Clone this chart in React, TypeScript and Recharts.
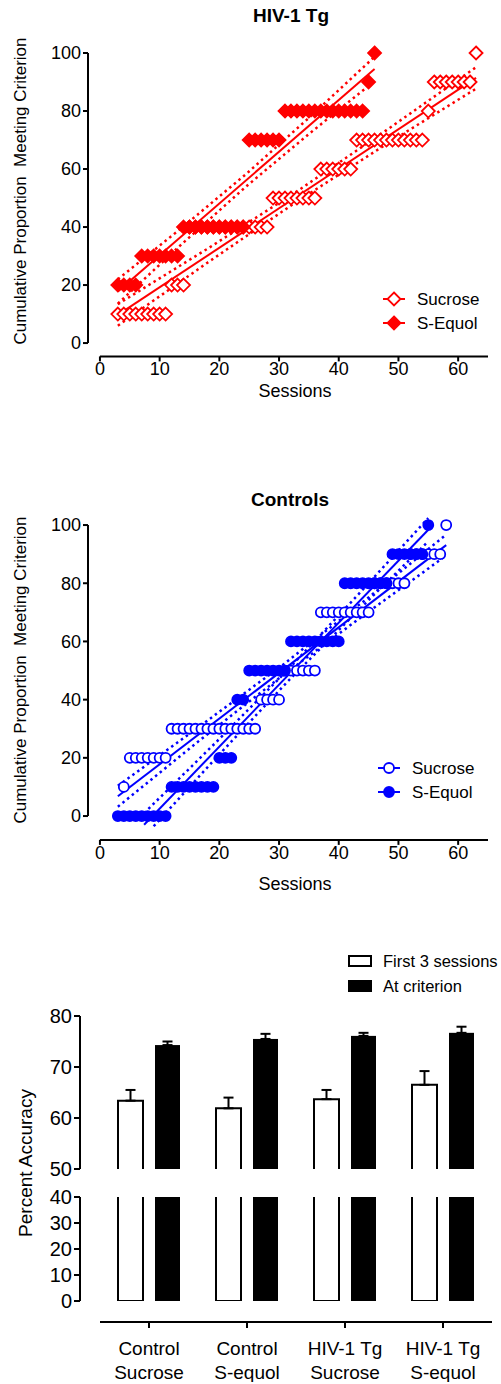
import React from 'react'
import {
  Bar,
  BarChart,
  ComposedChart,
  ErrorBar,
  Line,
  ReferenceLine,
  Scatter,
  XAxis,
  YAxis,
} from 'recharts'

const FONT = '"Liberation Sans", Arial, Helvetica, sans-serif'
const RED = '#ff0000'
const BLUE = '#0000ff'

const sessionTicks = [0, 10, 20, 30, 40, 50, 60]
const proportionTicks = [0, 20, 40, 60, 80, 100]

// HIV-1 Tg panel
const hivSucroseSessions = [
  3, 4, 5, 6, 7, 8, 9, 10, 11, 12, 13, 14, 15, 16, 17, 18, 19, 20, 21, 22, 23, 24, 25, 26, 27, 28, 29, 30, 31, 32, 33,
  34, 35, 36, 37, 38, 39, 40, 41, 42, 43, 44, 45, 46, 47, 48, 49, 50, 51, 52, 53, 54, 55, 56, 57, 58, 59, 60, 61, 62, 63,
]
const hivSucroseValues = [
  10, 10, 10, 10, 10, 10, 10, 10, 10, 20, 20, 20, 40, 40, 40, 40, 40, 40, 40, 40, 40, 40, 40, 40, 40, 40, 50, 50, 50, 50,
  50, 50, 50, 50, 60, 60, 60, 60, 60, 60, 70, 70, 70, 70, 70, 70, 70, 70, 70, 70, 70, 70, 80, 90, 90, 90, 90, 90, 90, 90,
  100,
]
const hivEquolSessions = [
  3, 4, 5, 6, 7, 8, 9, 10, 11, 12, 13, 14, 15, 16, 17, 18, 19, 20, 21, 22, 23, 24, 25, 26, 27, 28, 29, 30, 31, 32, 33,
  34, 35, 36, 37, 38, 39, 40, 41, 42, 43, 44, 45, 46,
]
const hivEquolValues = [
  20, 20, 20, 20, 30, 30, 30, 30, 30, 30, 30, 40, 40, 40, 40, 40, 40, 40, 40, 40, 40, 40, 70, 70, 70, 70, 70, 70, 80, 80,
  80, 80, 80, 80, 80, 80, 80, 80, 80, 80, 80, 80, 90, 100,
]
const hivSucroseFitX = [3, 63]
const hivSucroseFitY = [9.7, 91.4]
const hivSucroseBandX = [3, 18, 33, 48, 63]
const hivSucroseUpper = [13.4, 32.5, 52.3, 73.4, 95.1]
const hivSucroseLower = [6.0, 27.7, 48.8, 68.6, 87.7]
const hivEquolFitX = [3, 46]
const hivEquolFitY = [17.8, 94.5]
const hivEquolBandX = [3, 13.75, 24.5, 35.25, 46]
const hivEquolUpper = [22.0, 39.8, 58.3, 78.1, 98.7]
const hivEquolLower = [13.6, 34.2, 54.0, 72.5, 90.3]

// Controls panel
const ctlSucroseSessions = [
  4, 5, 6, 7, 8, 9, 10, 11, 12, 13, 14, 15, 16, 17, 18, 19, 20, 21, 22, 23, 24, 25, 26, 27, 28, 29, 30, 31, 32, 33, 34,
  35, 36, 37, 38, 39, 40, 41, 42, 43, 44, 45, 46, 47, 48, 49, 50, 51, 52, 53, 54, 55, 56, 57, 58,
]
const ctlSucroseValues = [
  10, 20, 20, 20, 20, 20, 20, 20, 30, 30, 30, 30, 30, 30, 30, 30, 30, 30, 30, 30, 30, 30, 30, 40, 40, 40, 40, 50, 50, 50,
  50, 50, 50, 70, 70, 70, 70, 70, 70, 70, 70, 70, 80, 80, 80, 80, 80, 80, 90, 90, 90, 90, 90, 90, 100,
]
const ctlEquolSessions = [
  3, 4, 5, 6, 7, 8, 9, 10, 11, 12, 13, 14, 15, 16, 17, 18, 19, 20, 21, 22, 23, 24, 25, 26, 27, 28, 29, 30, 31, 32, 33,
  34, 35, 36, 37, 38, 39, 40, 41, 42, 43, 44, 45, 46, 47, 48, 49, 50, 51, 52, 53, 54, 55,
]
const ctlEquolValues = [
  0, 0, 0, 0, 0, 0, 0, 0, 0, 10, 10, 10, 10, 10, 10, 10, 10, 20, 20, 20, 40, 40, 50, 50, 50, 50, 50, 50, 50, 60, 60, 60,
  60, 60, 60, 60, 60, 60, 80, 80, 80, 80, 80, 80, 80, 80, 90, 90, 90, 90, 90, 90, 100,
]
const ctlSucroseFitX = [3, 58]
const ctlSucroseFitY = [6.8, 93.1]
const ctlSucroseBandX = [3, 16.75, 30.5, 44.25, 58]
const ctlSucroseUpper = [10.4, 30.9, 51.75, 73.9, 96.7]
const ctlSucroseLower = [3.2, 26.1, 48.15, 69.1, 89.5]
const ctlEquolFitX = [7.4, 55]
const ctlEquolFitY = [-3, 98.4]
const ctlEquolUpperX = [7.4, 19.3, 31.2, 43.1, 55]
const ctlEquolUpper = [1.0, 25.05, 49.7, 75.75, 102.4]
const ctlEquolLowerX = [9.0, 19.3, 31.2, 43.1, 55]
const ctlEquolLower = [-3.5, 19.65, 45.7, 70.35, 94.4]

// Accuracy bars
const groups = ['Control\nSucrose', 'Control\nS-equol', 'HIV-1 Tg\nSucrose', 'HIV-1 Tg\nS-equol']
const firstSessions = [63.4, 61.9, 63.7, 66.5]
const firstSessionsErr = [2.1, 2.1, 1.8, 2.7]
const atCriterion = [74.3, 75.5, 76.1, 76.7]
const atCriterionErr = [0.7, 1.0, 0.6, 1.2]

type Pt = { x: number; y: number }
const zip = (xs: number[], ys: number[]): Pt[] => xs.map((x, i) => ({ x, y: ys[i] }))

const barRows = groups.map((group, i) => ({
  group,
  first: firstSessions[i],
  firstErr: [0, firstSessionsErr[i]],
  crit: atCriterion[i],
  critErr: [0, atCriterionErr[i]],
}))

function markerShape(kind: 'diamond' | 'circle', color: string, filled: boolean) {
  return (props: any) => {
    const { cx, cy } = props
    const fill = filled ? color : '#ffffff'
    if (kind === 'circle') {
      return <circle cx={cx} cy={cy} r={5} fill={fill} stroke={color} strokeWidth={1.8} />
    }
    const r = 6.5
    return (
      <polygon
        points={`${cx},${cy - r} ${cx + r},${cy} ${cx},${cy + r} ${cx - r},${cy}`}
        fill={fill}
        stroke={color}
        strokeWidth={1.8}
      />
    )
  }
}

interface SessionsChartProps {
  height: number
  marginTop: number
  marginBottom: number
  yMin: number
  color: string
  kind: 'diamond' | 'circle'
  open: Pt[]
  filled: Pt[]
  lines: Pt[][]
  bands: Pt[][]
}

function SessionsChart(p: SessionsChartProps) {
  const tick = { fill: '#000', fontSize: 18, fontFamily: FONT }
  return (
    <ComposedChart
      width={501}
      height={p.height}
      margin={{ top: p.marginTop, right: 13, bottom: p.marginBottom, left: 48 }}
    >
      <XAxis
        type="number"
        dataKey="x"
        domain={[-2, 65]}
        ticks={sessionTicks}
        allowDataOverflow
        axisLine={false}
        tickLine={{ stroke: '#000', strokeWidth: 2 }}
        tickSize={5}
        tickMargin={1}
        height={30}
        tick={tick}
        interval={0}
      />
      <YAxis
        type="number"
        dataKey="y"
        domain={[p.yMin, 104]}
        ticks={proportionTicks}
        allowDataOverflow
        axisLine={false}
        tickLine={{ stroke: '#000', strokeWidth: 2 }}
        tickSize={5}
        tickMargin={2}
        width={40}
        tick={tick}
        interval={0}
      />
      <ReferenceLine segment={[{ x: -2, y: 0 }, { x: -2, y: 100 }]} stroke="#000" strokeWidth={2} />
      <ReferenceLine segment={[{ x: 0, y: p.yMin }, { x: 65, y: p.yMin }]} stroke="#000" strokeWidth={2} />
      <Scatter data={p.open} shape={markerShape(p.kind, p.color, false)} isAnimationActive={false} />
      <Scatter data={p.filled} shape={markerShape(p.kind, p.color, true)} isAnimationActive={false} />
      {p.lines.map((d, i) => (
        <Line
          key={'fit' + i}
          data={d}
          dataKey="y"
          type="linear"
          stroke={p.color}
          strokeWidth={2}
          dot={false}
          isAnimationActive={false}
        />
      ))}
      {p.bands.map((d, i) => (
        <Line
          key={'band' + i}
          data={d}
          dataKey="y"
          type="linear"
          stroke={p.color}
          strokeWidth={2.5}
          strokeDasharray="2.5 3.5"
          dot={false}
          isAnimationActive={false}
        />
      ))}
    </ComposedChart>
  )
}

function SeriesLegend({ left, top, color, kind }: { left: number; top: number; color: string; kind: 'diamond' | 'circle' }) {
  const rows = [
    { label: 'Sucrose', filled: false },
    { label: 'S-Equol', filled: true },
  ]
  return (
    <svg style={{ position: 'absolute', left, top }} width={110} height={44}>
      {rows.map((r, i) => {
        const cy = 10 + i * 24
        const Marker = markerShape(kind, color, r.filled)
        return (
          <g key={r.label}>
            <line x1={0} x2={22} y1={cy} y2={cy} stroke={color} strokeWidth={2} />
            <Marker cx={11} cy={cy} />
            <text x={34} y={cy} dy="0.35em" fontSize={17} fontFamily={FONT} fill="#000">
              {r.label}
            </text>
          </g>
        )
      })}
    </svg>
  )
}

function Label({ x, y, size, bold, rotate, children }: any) {
  return (
    <div
      style={{
        position: 'absolute',
        left: x,
        top: y,
        transform: `translate(-50%, -50%)${rotate ? ' rotate(-90deg)' : ''}`,
        fontSize: size,
        fontWeight: bold ? 700 : 400,
        whiteSpace: 'pre',
        lineHeight: 1,
        fontFamily: FONT,
        color: '#000',
      }}
    >
      {children}
    </div>
  )
}

// bar outlines: white bars keep only the sides that are not at the axis break
function upperBar(outline: boolean) {
  return (props: any) => {
    const { x, y, width, height } = props
    if (!outline) return <rect x={x} y={y} width={width} height={height} fill="#000" />
    const b = y + height
    return (
      <g>
        <rect x={x} y={y} width={width} height={height} fill="#fff" />
        <path d={`M${x},${b} L${x},${y} L${x + width},${y} L${x + width},${b}`} fill="none" stroke="#000" strokeWidth={2} />
      </g>
    )
  }
}

function lowerBar(outline: boolean) {
  return (props: any) => {
    const { x, y, width, height } = props
    if (!outline) return <rect x={x} y={y} width={width} height={height} fill="#000" />
    const b = y + height
    return (
      <g>
        <rect x={x} y={y} width={width} height={height} fill="#fff" />
        <path d={`M${x},${y} L${x},${b} L${x + width},${b} L${x + width},${y}`} fill="none" stroke="#000" strokeWidth={2} />
      </g>
    )
  }
}

function CategoryTick({ x, y, payload }: any) {
  const lines = String(payload.value).split('\n')
  return (
    <text x={x} y={y} textAnchor="middle" fontSize={19} fontFamily={FONT} fill="#000">
      {lines.map((l, i) => (
        <tspan key={i} x={x} dy={i === 0 ? 25 : 24}>
          {l}
        </tspan>
      ))}
    </text>
  )
}

const barTick = { fill: '#000', fontSize: 20, fontFamily: FONT }
const axisStroke = { stroke: '#000', strokeWidth: 2 }

export default function App() {
  return (
    <div style={{ position: 'absolute', left: 0, top: 0, width: 501, height: 1384, background: '#fff', fontFamily: FONT }}>
      <div style={{ position: 'absolute', left: 0, top: 0 }}>
        <SessionsChart
          height={400}
          marginTop={41.4}
          marginBottom={13.6}
          yMin={-4.6}
          color={RED}
          kind="diamond"
          open={zip(hivSucroseSessions, hivSucroseValues)}
          filled={zip(hivEquolSessions, hivEquolValues)}
          lines={[zip(hivSucroseFitX, hivSucroseFitY), zip(hivEquolFitX, hivEquolFitY)]}
          bands={[
            zip(hivSucroseBandX, hivSucroseUpper),
            zip(hivSucroseBandX, hivSucroseLower),
            zip(hivEquolBandX, hivEquolUpper),
            zip(hivEquolBandX, hivEquolLower),
          ]}
        />
      </div>
      <div style={{ position: 'absolute', left: 0, top: 480 }}>
        <SessionsChart
          height={400}
          marginTop={33.4}
          marginBottom={10.1}
          yMin={-8.2}
          color={BLUE}
          kind="circle"
          open={zip(ctlSucroseSessions, ctlSucroseValues)}
          filled={zip(ctlEquolSessions, ctlEquolValues)}
          lines={[zip(ctlSucroseFitX, ctlSucroseFitY), zip(ctlEquolFitX, ctlEquolFitY)]}
          bands={[
            zip(ctlSucroseBandX, ctlSucroseUpper),
            zip(ctlSucroseBandX, ctlSucroseLower),
            zip(ctlEquolUpperX, ctlEquolUpper),
            zip(ctlEquolLowerX, ctlEquolLower),
          ]}
        />
      </div>

      <div style={{ position: 'absolute', left: 0, top: 1000 }}>
        <BarChart width={501} height={180} data={barRows} margin={{ top: 16, right: 9, bottom: 11, left: 40 }} barSize={25} barGap={12}>
          <XAxis dataKey="group" hide padding={{ left: 20, right: 0 }} />
          <YAxis
            domain={[50, 80]}
            ticks={[50, 60, 70, 80]}
            allowDataOverflow
            interval={0}
            width={40}
            tickSize={6}
            tickMargin={2}
            axisLine={axisStroke}
            tickLine={axisStroke}
            tick={barTick}
          />
          <Bar dataKey="first" shape={upperBar(true)} isAnimationActive={false}>
            <ErrorBar dataKey="firstErr" width={5} stroke="#000" strokeWidth={2} direction="y" />
          </Bar>
          <Bar dataKey="crit" shape={upperBar(false)} isAnimationActive={false}>
            <ErrorBar dataKey="critErr" width={5} stroke="#000" strokeWidth={2} direction="y" />
          </Bar>
        </BarChart>
      </div>
      <div style={{ position: 'absolute', left: 0, top: 1180 }}>
        <BarChart width={501} height={145} data={barRows} margin={{ top: 17, right: 9, bottom: 24, left: 40 }} barSize={25} barGap={12}>
          <XAxis dataKey="group" hide padding={{ left: 20, right: 0 }} />
          <YAxis
            domain={[0, 40]}
            ticks={[0, 10, 20, 30, 40]}
            allowDataOverflow
            interval={0}
            width={40}
            tickSize={6}
            tickMargin={2}
            axisLine={axisStroke}
            tickLine={axisStroke}
            tick={barTick}
          />
          <Bar dataKey="first" shape={lowerBar(true)} isAnimationActive={false} />
          <Bar dataKey="crit" shape={lowerBar(false)} isAnimationActive={false} />
        </BarChart>
      </div>
      <div style={{ position: 'absolute', left: 0, top: 1310 }}>
        <BarChart width={501} height={72} data={barRows} margin={{ top: 2, right: 9, bottom: 0, left: 100 }}>
          <XAxis
            dataKey="group"
            height={60}
            tickSize={6}
            tickMargin={2}
            axisLine={axisStroke}
            tickLine={axisStroke}
            tick={<CategoryTick />}
            interval={0}
          />
          <YAxis hide />
        </BarChart>
      </div>

      <Label x={291} y={15} size={19} bold>HIV-1 Tg</Label>
      <Label x={20} y={191} size={17} rotate>{'Cumulative Proportion  Meeting Criterion'}</Label>
      <Label x={295} y={391} size={18}>Sessions</Label>
      <SeriesLegend left={383} top={289} color={RED} kind="diamond" />

      <Label x={290} y={499} size={19} bold>Controls</Label>
      <Label x={20} y={670} size={17} rotate>{'Cumulative Proportion  Meeting Criterion'}</Label>
      <Label x={295} y={884} size={18}>Sessions</Label>
      <SeriesLegend left={378} top={758} color={BLUE} kind="circle" />

      <Label x={25} y={1163} size={19} rotate>Percent Accuracy</Label>
      <svg style={{ position: 'absolute', left: 340, top: 948 }} width={161} height={50}>
        <rect x={9} y={8} width={22} height={10} fill="#fff" stroke="#000" strokeWidth={2} />
        <text x={43} y={13} dy="0.35em" fontSize={16.5} fontFamily={FONT} fill="#000">First 3 sessions</text>
        <rect x={8} y={32} width={24} height={12} fill="#000" />
        <text x={43} y={38} dy="0.35em" fontSize={16.5} fontFamily={FONT} fill="#000">At criterion</text>
      </svg>
    </div>
  )
}
